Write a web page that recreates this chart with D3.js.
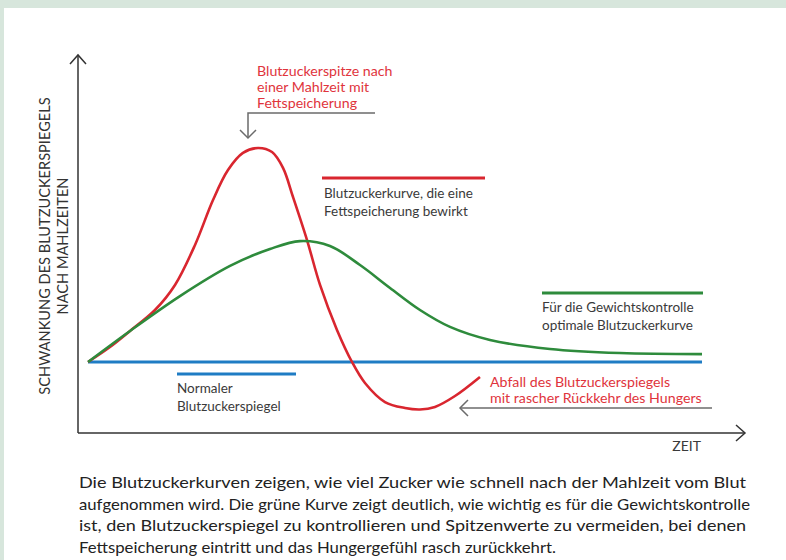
<!DOCTYPE html>
<html>
<head>
<meta charset="utf-8">
<script src="https://cdn.jsdelivr.net/npm/d3@7"></script>
<style>
  body { margin: 0; padding: 0; background: #fff; }
  svg { display: block; }
  text { font-family: Lato, "Open Sans", sans-serif; }
</style>
</head>
<body>
<svg id="chart" width="786" height="560"></svg>
<script>
// ---- data (time in arbitrary units, sugar level relative to normal) ----
const timeNormal = [0, 100];
const sugarNormal = [0, 0];

const timeOptimal = [0, 6.84, 14.98, 23.13, 29.64, 34.53, 39.41, 44.30, 49.19, 54.07, 58.96, 65.47, 75.24, 86.64, 100];
const sugarOptimal = [0, 14.5, 30.8, 44.9, 52.8, 56.5, 54.2, 45.3, 34.6, 24.3, 16.4, 10.3, 6.1, 4.2, 3.7];

const timeFat = [0, 3.58, 6.84, 10.91, 14.17, 17.43, 20.36, 22.80, 25.24, 27.69, 29.97, 31.76, 33.39, 35.67, 37.79, 40.55, 43.00, 45.11, 48.37, 51.63, 54.07, 56.51, 59.77, 63.84];
const sugarFat = [0, 7.0, 14.5, 24.3, 36.0, 54.7, 75.7, 89.7, 97.7, 100, 98.1, 90.7, 77.1, 57.0, 36.0, 15.0, 0, -9.8, -18.7, -21.5, -22.2, -21.0, -15.9, -7.0];

const legendNormal = ["Normaler", "Blutzuckerspiegel"];
const legendFat = ["Blutzuckerkurve, die eine", "Fettspeicherung bewirkt"];
const legendOptimal = ["Für die Gewichtskontrolle", "optimale Blutzuckerkurve"];
const notePeak = ["Blutzuckerspitze nach", "einer Mahlzeit mit", "Fettspeicherung"];
const noteDrop = ["Abfall des Blutzuckerspiegels", "mit rascher Rückkehr des Hungers"];
const yAxisTitle = ["SCHWANKUNG DES BLUTZUCKERSPIEGELS", "NACH MAHLZEITEN"];
const xAxisTitle = "ZEIT";
const caption = [
  "Die Blutzuckerkurven zeigen, wie viel Zucker wie schnell nach der Mahlzeit vom Blut",
  "aufgenommen wird. Die grüne Kurve zeigt deutlich, wie wichtig es für die Gewichtskontrolle",
  "ist, den Blutzuckerspiegel zu kontrollieren und Spitzenwerte zu vermeiden, bei denen",
  "Fettspeicherung eintritt und das Hungergefühl rasch zurückkehrt."
];
const captionWidths = [667, 671, 667, 477];

// ---- colours ----
const RED = "#d9262f", GREEN = "#2e8b3c", BLUE = "#1f7cc4", GREY = "#6b6b6b", TXT = "#3a3a3a", RED_TXT = "#e0343c";

const svg = d3.select("#chart");
svg.append("rect").attr("width", 786).attr("height", 560).attr("fill", "#d7e6dc");
svg.append("rect").attr("x", 4).attr("y", 8).attr("width", 782).attr("height", 552).attr("fill", "#fff");

const x = d3.scaleLinear().domain([0, 100]).range([88, 702]);
const y = d3.scaleLinear().domain([0, 100]).range([362, 148]);

// axes
const ox = 78, oy = 433, yTop = 55, xRight = 745;
const axis = svg.append("g").attr("stroke", "#333").attr("stroke-width", 1.5).attr("fill", "none");
axis.append("path").attr("d", `M${ox},${oy}V${yTop}`);
axis.append("path").attr("d", `M${ox - 8},${yTop + 9}L${ox},${yTop}L${ox + 8},${yTop + 9}`);
axis.append("path").attr("d", `M${ox},${oy}H${xRight}`);
axis.append("path").attr("d", `M${xRight - 9},${oy - 8}L${xRight},${oy}L${xRight - 9},${oy + 8}`);

svg.append("text").attr("x", 701).attr("y", 451).attr("text-anchor", "end")
  .attr("font-size", 14).attr("fill", TXT).text(xAxisTitle);

const yt = svg.append("g").attr("transform", "translate(0,246) rotate(-90)");
yAxisTitle.forEach((t, i) => {
  yt.append("text").attr("x", 0).attr("y", 50 + i * 18).attr("text-anchor", "middle")
    .attr("font-size", 14.6).attr("fill", "#333").text(t);
});

// curves
const line = d3.line().x(d => x(d[0])).y(d => y(d[1])).curve(d3.curveCatmullRom.alpha(0.5));
function series(ts, vs) { return ts.map((t, i) => [t, vs[i]]); }

svg.append("path").datum(series(timeNormal, sugarNormal)).attr("d", line)
  .attr("fill", "none").attr("stroke", BLUE).attr("stroke-width", 3);
svg.append("path").datum(series(timeFat, sugarFat)).attr("d", line)
  .attr("fill", "none").attr("stroke", RED).attr("stroke-width", 2.6);
svg.append("path").datum(series(timeOptimal, sugarOptimal)).attr("d", line)
  .attr("fill", "none").attr("stroke", GREEN).attr("stroke-width", 2.6);

// legends
function legend(x1, x2, ly, color, lines, tx, ty) {
  svg.append("line").attr("x1", x1).attr("x2", x2).attr("y1", ly).attr("y2", ly)
    .attr("stroke", color).attr("stroke-width", 3);
  lines.forEach((t, i) => {
    svg.append("text").attr("x", tx).attr("y", ty + i * 18).attr("font-size", 13.5)
      .attr("fill", TXT).text(t);
  });
}
legend(177, 296, 374, BLUE, legendNormal, 177, 393);
legend(322, 485, 178, RED, legendFat, 324, 198);
legend(542, 703, 293, GREEN, legendOptimal, 542, 312);

// annotations
notePeak.forEach((t, i) => {
  svg.append("text").attr("x", 257).attr("y", 76 + i * 16).attr("font-size", 14.2)
    .attr("fill", RED_TXT).text(t);
});
const ann = svg.append("g").attr("stroke", GREY).attr("stroke-width", 1.5).attr("fill", "none");
ann.append("path").attr("d", "M375,113H248V138");
ann.append("path").attr("d", "M240,130L248,138L256,130");
noteDrop.forEach((t, i) => {
  svg.append("text").attr("x", 490).attr("y", 387 + i * 16).attr("font-size", 14.2)
    .attr("fill", RED_TXT).text(t);
});
ann.append("path").attr("d", "M712,408H460");
ann.append("path").attr("d", "M468,400L460,408L468,416");

// caption
caption.forEach((t, i) => {
  svg.append("text").attr("x", 79).attr("y", 488 + i * 21.5).attr("font-size", 16)
    .attr("fill", "#222").attr("textLength", captionWidths[i])
    .attr("lengthAdjust", "spacingAndGlyphs").text(t);
});
</script>
</body>
</html>
